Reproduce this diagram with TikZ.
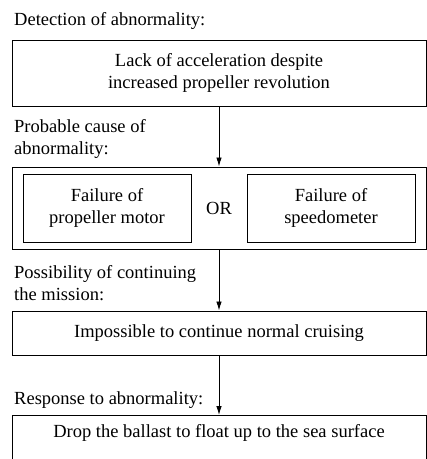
\documentclass[tikz,border=0pt]{standalone}
\usepackage{fontspec}
\setmainfont{Liberation Serif}
\usetikzlibrary{shapes,arrows.meta,positioning,calc}

\begin{document}
\begin{tikzpicture}[x=1pt, y=-1pt, font=\fontsize{18.5}{21.5}\selectfont,
    block/.style={rectangle, draw, line width=1pt, minimum width=414pt, text centered, inner sep=0pt},
    cause/.style={rectangle, draw, line width=1pt, minimum width=168pt, minimum height=68pt, align=center, inner sep=0pt},
    stagetext/.style={anchor=west, align=left, inner sep=0pt},
    line/.style={draw, line width=0.9pt, -{Latex[length=9pt,width=5.5pt]}}]
    \useasboundingbox (0,0) rectangle (427,459);
    \fill [white] (0,0) rectangle (427,459);

    % Detection
    \node [stagetext] (detect) at (14,21) {Detection of abnormality:};
    \node [block, align=center, minimum height=66pt] (lack) at (219,73) {Lack of acceleration despite\\increased propeller revolution};

    % Probable cause
    \node [stagetext] (cause) at (14,139) {Probable cause of\\abnormality:};
    \node [block, minimum height=82pt] (causes) at (219,208) {};
    \node [cause] (motor) at (107,208) {Failure of\\propeller motor};
    \node [cause] (speedo) at (331,208) {Failure of\\speedometer};
    \node at ($(motor.east)!0.5!(speedo.west)$) (or) {OR};

    % Continuing the mission
    \node [stagetext] (contin) at (14,283) {Possibility of continuing\\the mission:};
    \node [block, minimum height=44pt] (impossible) at (219,333) {Impossible to continue normal cruising};

    % Response
    \node [stagetext] (response) at (14,400) {Response to abnormality:};
    \node [block, anchor=north, text height=22pt, text depth=30pt] (ballast) at (219,415) {Drop the ballast to float up to the sea surface};

    % Flow connections
    \path [line] (lack) -- (causes);
    \path [line] (causes) -- (impossible);
    \path [line] (impossible) -- (ballast);
\end{tikzpicture}
\end{document}
